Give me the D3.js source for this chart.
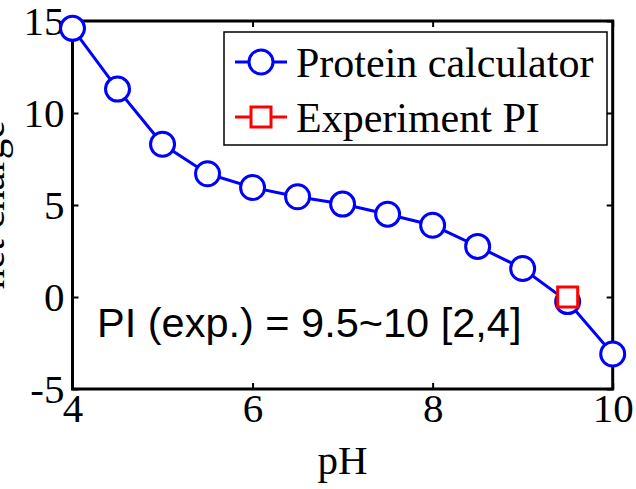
<!DOCTYPE html>
<html><head><meta charset="utf-8">
<script src="https://cdn.jsdelivr.net/npm/d3@7"></script>
<style>body{margin:0;background:#fff}svg{display:block}</style>
</head><body>
<svg id="c" width="636" height="489"></svg>
<script>
const pH = [4, 4.5, 5, 5.5, 6, 6.5, 7, 7.5, 8, 8.5, 9, 9.5, 10];
const netCharge = [14.6, 11.3, 8.3, 6.7, 5.95, 5.45, 5.05, 4.5, 3.9, 2.75, 1.55, -0.25, -3.1];
const expPH = [9.5];
const expCharge = [0];
const xTicks = [4, 6, 8, 10];
const yTicks = [-5, 0, 5, 10, 15];
const seriesNames = ["Protein calculator", "Experiment PI"];
const annotation = "PI (exp.) = 9.5~10 [2,4]";

const svg = d3.select("#c");
const L = 72.5, R = 612.7, T = 21, B = 389;
const x = d3.scaleLinear().domain([4, 10]).range([L, R]);
const y = d3.scaleLinear().domain([-5, 15]).range([B, T]);
const serif = "'Liberation Serif','Times New Roman',serif";
const sans = "'Liberation Sans',Arial,sans-serif";
const fs = 41;
const fmt = d => String(d);

// axes box
svg.append("rect").attr("x", L).attr("y", T).attr("width", R - L).attr("height", B - T)
  .attr("fill", "none").attr("stroke", "#000").attr("stroke-width", 3);

// axes with inward ticks
const gx = svg.append("g").attr("transform", `translate(0,${B})`)
  .call(d3.axisBottom(x).tickValues(xTicks).tickFormat(fmt).tickSizeInner(-6).tickSizeOuter(0).tickPadding(12));
gx.select(".domain").remove();
gx.selectAll("line").attr("stroke-width", 2);
gx.selectAll("text").attr("font-family", serif).attr("font-size", fs).attr("fill", "#000").attr("dy", "0.71em").attr("y", 4);
const gxt = svg.append("g").attr("transform", `translate(0,${T})`).call(d3.axisTop(x).tickValues(xTicks).tickSizeInner(-6).tickSizeOuter(0).tickFormat(""));
gxt.select(".domain").remove(); gxt.selectAll("line").attr("stroke-width", 2);

const gy = svg.append("g").attr("transform", `translate(${L},0)`)
  .call(d3.axisLeft(y).tickValues(yTicks).tickFormat(fmt).tickSizeInner(-6).tickSizeOuter(0).tickPadding(8));
gy.select(".domain").remove();
gy.selectAll("line").attr("stroke-width", 2);
gy.selectAll("text").attr("font-family", serif).attr("font-size", fs).attr("fill", "#000").attr("dy", "0.34em");
const gyr = svg.append("g").attr("transform", `translate(${R},0)`).call(d3.axisRight(y).tickValues(yTicks).tickSizeInner(-6).tickSizeOuter(0).tickFormat(""));
gyr.select(".domain").remove(); gyr.selectAll("line").attr("stroke-width", 2);

// labels
svg.append("text").attr("x", (L + R) / 2).attr("y", 474).attr("text-anchor", "middle")
  .attr("font-family", serif).attr("font-size", fs).text("pH");
svg.append("text").attr("transform", `translate(4,${(T + B) / 2}) rotate(-90)`).attr("text-anchor", "middle")
  .attr("font-family", serif).attr("font-size", fs).text("net charge");

// annotation
svg.append("text").attr("x", 97).attr("y", 337).attr("font-family", sans).attr("font-size", 41.5).attr("fill", "#000").text(annotation);

// series line
const line = d3.line().x((d, i) => x(pH[i])).y(d => y(d));
svg.append("path").datum(netCharge).attr("d", line).attr("fill", "none").attr("stroke", "#0000ff").attr("stroke-width", 3);
svg.selectAll("circle.pt").data(netCharge).join("circle").attr("class", "pt")
  .attr("cx", (d, i) => x(pH[i])).attr("cy", d => y(d)).attr("r", 12)
  .attr("fill", "#fff").attr("stroke", "#0000ff").attr("stroke-width", 3);
svg.selectAll("rect.exp").data(expCharge).join("rect").attr("class", "exp")
  .attr("x", (d, i) => x(expPH[i]) - 10).attr("y", d => y(d) - 10).attr("width", 20).attr("height", 20)
  .attr("fill", "#fff").attr("stroke", "#ff0000").attr("stroke-width", 3);

// legend
const lg = svg.append("g");
lg.append("rect").attr("x", 224).attr("y", 32).attr("width", 383).attr("height", 113)
  .attr("fill", "#fff").attr("stroke", "#000").attr("stroke-width", 1.5);
const rows = [62, 117];
lg.append("line").attr("x1", 235).attr("x2", 287).attr("y1", rows[0]).attr("y2", rows[0]).attr("stroke", "#0000ff").attr("stroke-width", 3);
lg.append("circle").attr("cx", 261).attr("cy", rows[0]).attr("r", 12).attr("fill", "#fff").attr("stroke", "#0000ff").attr("stroke-width", 3);
lg.append("line").attr("x1", 235).attr("x2", 287).attr("y1", rows[1]).attr("y2", rows[1]).attr("stroke", "#ff0000").attr("stroke-width", 3);
lg.append("rect").attr("x", 251).attr("y", rows[1] - 10).attr("width", 20).attr("height", 20).attr("fill", "#fff").attr("stroke", "#ff0000").attr("stroke-width", 3);
seriesNames.forEach((n, i) => {
  lg.append("text").attr("x", 296).attr("y", rows[i] + 15).attr("font-family", serif).attr("font-size", 42).text(n);
});
</script>
</body></html>
